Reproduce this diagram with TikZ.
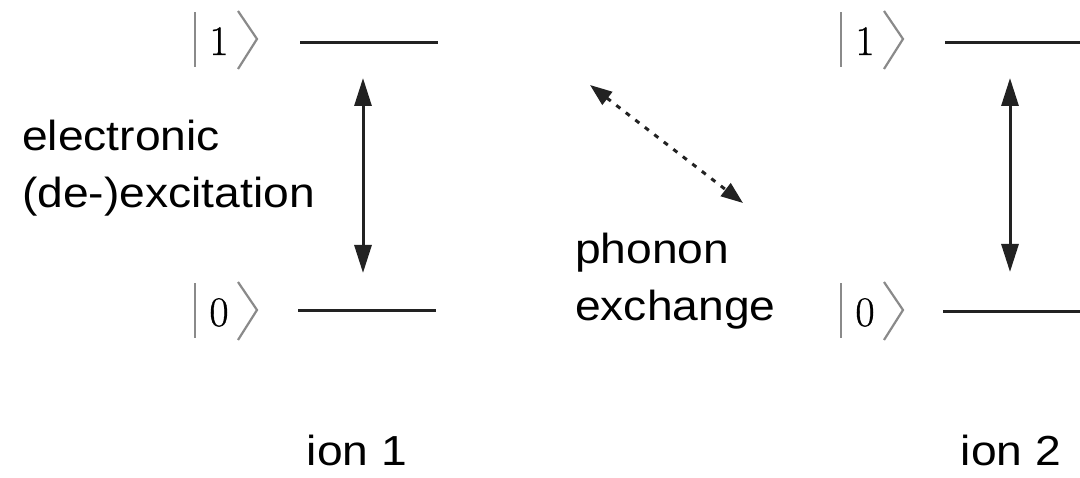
\documentclass[tikz,border=0pt]{standalone}
\usepackage{fontspec}
\setmainfont{Liberation Sans}[FakeStretch=1.1]
\newfontfamily\digitfont{Latin Modern Roman}[FakeBold=0.8]
\usetikzlibrary{arrows.meta}
\definecolor{ink}{HTML}{222222}
\definecolor{ketgray}{HTML}{8A8A8A}
\begin{document}
\begin{tikzpicture}[x=1pt,y=-1pt,
  level/.style={line width=3pt,draw=ink},
  transition/.style={line width=3pt,draw=ink,{Triangle[length=28pt,width=17pt]}-{Triangle[length=28pt,width=17pt]}},
  exchange/.style={line width=3pt,draw=ink,dash pattern=on 5pt off 7pt,{Triangle[length=22pt,width=16pt]}-{Triangle[length=22pt,width=16pt]}},
  label/.style={inner sep=0pt,text=black,font=\fontsize{42}{57}\selectfont,align=left},
  digit/.style={inner sep=0pt,anchor=base,font=\fontsize{42}{50}\digitfont},
  ketline/.style={line width=2.2pt,draw=ketgray}]
\useasboundingbox (0,0) rectangle (1080,478);

% ket |n> drawn as bar, digit and angle bracket
\newcommand{\ketsym}[4]{% name, digit x, centre y, digit
  \node[digit] (#1) at (#2,#3+15) {#4};
  \draw[ketline] (#2-24,#3-27.5) -- (#2-24,#3+27.5);
  \draw[ketline] (#2+19,#3-29) -- (#2+38,#3-1) -- (#2+19,#3+29);
}

% ion 1
\ketsym{ketA1}{219}{40}{1}
\ketsym{ketA0}{219}{311}{0}
\coordinate (a1l) at (300,43);  \coordinate (a1r) at (438,43);
\coordinate (a0l) at (298,311); \coordinate (a0r) at (436,311);
\draw[level] (a1l) -- (a1r);
\draw[level] (a0l) -- (a0r);
\coordinate (atop) at (363,78); \coordinate (abot) at (363,273);
\draw[transition] (atop) -- (abot);

% ion 2
\ketsym{ketB1}{865}{40}{1}
\ketsym{ketB0}{865}{311}{0}
\coordinate (b1l) at (945,43);  \coordinate (b1r) at (1081,43);
\coordinate (b0l) at (943,312); \coordinate (b0r) at (1081,312);
\draw[level] (b1l) -- (b1r);
\draw[level] (b0l) -- (b0r);
\coordinate (btop) at (1010,78); \coordinate (bbot) at (1010,272);
\draw[transition] (btop) -- (bbot);

% phonon coupling between the ions
\coordinate (pa) at (590,85); \coordinate (pb) at (743,203);
\draw[exchange] (pa) -- (pb);

% labels (base anchor sits on the last line)
\node[label,anchor=base west] (elec) at (22,208) {electronic\\(de-)excitation};
\node[label,anchor=base west] (phon) at (575,321) {phonon\\exchange};
\node[label,anchor=base] (ion1) at (357,465) {ion 1};
\node[label,anchor=base] (ion2) at (1011,465) {ion 2};
\end{tikzpicture}
\end{document}
